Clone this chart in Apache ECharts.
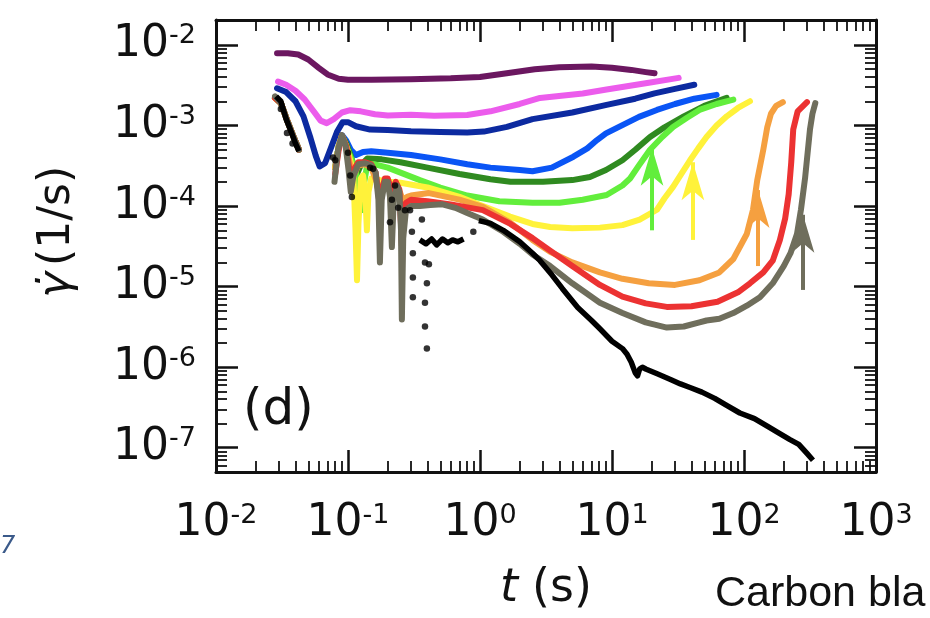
<!DOCTYPE html>
<html>
<head>
<meta charset="utf-8">
<script src="https://cdn.jsdelivr.net/npm/echarts@6/dist/echarts.min.js"></script>
<style>
  html, body { margin: 0; padding: 0; background: #ffffff; }
  #chart { width: 930px; height: 618px; }
</style>
</head>
<body>
<div id="chart"></div>
<script>
// Creep shear-rate curves, gamma-dot (1/s) versus time t (s), log-log.
// Each curve: time points and rates; null marks a break (negative rate, not shown on log scale).

const purpleT = [0.029, 0.035, 0.042, 0.05, 0.06, 0.07, 0.085, 0.1, 0.15, 0.3, 0.6, 1, 1.5, 2.6, 4, 7, 10, 14, 18, 21];
const purpleY = [7.9e-3, 7.9e-3, 7.6e-3, 6.6e-3, 5.2e-3, 4.3e-3, 3.8e-3, 3.7e-3, 3.7e-3, 3.75e-3, 3.85e-3, 4.0e-3, 4.4e-3, 5.0e-3, 5.3e-3, 5.4e-3, 5.2e-3, 4.9e-3, 4.6e-3, 4.45e-3];

const magentaT = [0.0295, 0.034, 0.04, 0.047, 0.055, 0.062, 0.069, 0.078, 0.09, 0.104, 0.125, 0.16, 0.2, 0.3, 0.45, 0.8, 1.2, 2, 2.85, 6, 9.1, 19, 32];
const magentaY = [3.5e-3, 3.2e-3, 2.7e-3, 2.1e-3, 1.5e-3, 1.15e-3, 1.07e-3, 1.2e-3, 1.45e-3, 1.55e-3, 1.5e-3, 1.38e-3, 1.33e-3, 1.36e-3, 1.32e-3, 1.35e-3, 1.5e-3, 1.85e-3, 2.2e-3, 2.5e-3, 2.8e-3, 3.4e-3, 3.9e-3];

const navyT = [0.029, 0.034, 0.04, 0.046, 0.052, 0.057, 0.061, 0.067, 0.075, 0.083, 0.091, 0.1, 0.115, 0.147, 0.2, 0.3, 0.5, 0.8, 1.07, 1.6, 2.5, 5, 9.1, 15, 21, 30, 42];
const navyY = [2.9e-3, 2.6e-3, 2.0e-3, 1.3e-3, 7e-4, 4.2e-4, 3.1e-4, 3.4e-4, 5.5e-4, 8.5e-4, 1.1e-3, 1.1e-3, 9.8e-4, 8.9e-4, 8.8e-4, 8.5e-4, 8.3e-4, 8.2e-4, 8.4e-4, 9.6e-4, 1.2e-3, 1.45e-3, 1.8e-3, 2.15e-3, 2.5e-3, 2.85e-3, 3.2e-3];

const blueT = [0.028, 0.031, 0.035, 0.039, 0.0425, 0.06, 0.08, 0.085, 0.09, 0.097, 0.105, 0.115, 0.13, 0.15, 0.2, 0.3, 0.5, 0.8, 1.2, 2, 2.5, 3.5, 5.1, 6.5, 7.7, 9, 12.1, 16, 21.9, 30, 42, 62];
const blueY = [2.2e-3, 1.9e-3, 1.1e-3, 7e-4, 5e-4, null, 3e-4, 5.5e-4, 7.6e-4, 6.5e-4, 5e-4, 4.3e-4, 4.7e-4, 4.8e-4, 4.6e-4, 4.3e-4, 3.8e-4, 3.3e-4, 3.0e-4, 2.8e-4, 2.7e-4, 3.0e-4, 4.1e-4, 5.2e-4, 6.6e-4, 8e-4, 1.02e-3, 1.28e-3, 1.56e-3, 1.85e-3, 2.15e-3, 2.4e-3];

const greenT = [0.028, 0.031, 0.035, 0.039, 0.0425, 0.06, 0.08, 0.085, 0.09, 0.097, 0.105, 0.112, 0.118, 0.125, 0.14, 0.18, 0.25, 0.4, 0.7, 1.2, 1.7, 3, 5, 6.8, 9, 12, 15, 19.4, 25, 35, 50, 74];
const greenY = [2.2e-3, 1.9e-3, 1.1e-3, 7e-4, 5e-4, null, 3e-4, 5.5e-4, 7.5e-4, 6e-4, 4.2e-4, 3.0e-4, 2.6e-4, 3.2e-4, 3.9e-4, 3.8e-4, 3.5e-4, 3.0e-4, 2.5e-4, 2.15e-4, 2.0e-4, 2.0e-4, 2.1e-4, 2.3e-4, 2.8e-4, 3.7e-4, 5e-4, 7.2e-4, 9.5e-4, 1.3e-3, 1.75e-3, 2.2e-3];

const limeT = [0.028, 0.031, 0.035, 0.039, 0.0425, 0.06, 0.08, 0.085, 0.09, 0.097, 0.105, 0.112, 0.118, 0.123, 0.128, 0.133, 0.14, 0.16, 0.2, 0.25, 0.35, 0.5, 0.8, 1.4, 2.5, 4, 6, 9.1, 12, 13.7, 16, 19.4, 24, 29, 37, 46, 62, 83];
const limeY = [2.2e-3, 1.9e-3, 1.1e-3, 7e-4, 5e-4, null, 3e-4, 5.5e-4, 7.4e-4, 5.5e-4, 4e-4, 3e-4, 2.2e-4, 1.3e-4, 8.9e-5, 2e-4, 3.3e-4, 3.3e-4, 3.0e-4, 2.6e-4, 2.1e-4, 1.7e-4, 1.35e-4, 1.15e-4, 1.1e-4, 1.1e-4, 1.2e-4, 1.37e-4, 1.8e-4, 2.2e-4, 3.2e-4, 5e-4, 7.2e-4, 9.6e-4, 1.25e-3, 1.56e-3, 1.85e-3, 2.1e-3];

const yellowT = [0.028, 0.031, 0.035, 0.039, 0.0425, 0.06, 0.08, 0.085, 0.09, 0.097, 0.105, 0.11, 0.114, 0.117, 0.12, 0.125, 0.13, 0.135, 0.139, 0.143, 0.15, 0.2, 0.25, 0.4, 0.7, 1.05, 1.69, 2.5, 3.4, 5, 8.1, 12, 16.2, 21.9, 25, 29, 34, 39, 45, 52, 62, 74, 90, 111];
const yellowY = [2.2e-3, 1.9e-3, 1.1e-3, 7e-4, 5e-4, null, 3e-4, 5.5e-4, 7.4e-4, 5.5e-4, 3.5e-4, 2.2e-4, 5e-5, 1.2e-5, 6e-5, 2.2e-4, 2.4e-4, 1.5e-4, 5e-5, 1.5e-4, 2.2e-4, 2.0e-4, 1.95e-4, 1.7e-4, 1.3e-4, 1.0e-4, 7.4e-5, 6e-5, 5.5e-5, 5.3e-5, 5.4e-5, 5.8e-5, 6.8e-5, 9e-5, 1.25e-4, 1.73e-4, 2.6e-4, 3.7e-4, 5.2e-4, 7.2e-4, 1e-3, 1.3e-3, 1.65e-3, 2.0e-3];

const orangeT = [0.028, 0.031, 0.035, 0.039, 0.0425, 0.06, 0.08, 0.085, 0.09, 0.097, 0.104, 0.11, 0.12, 0.135, 0.15, 0.165, 0.175, 0.185, 0.2, 0.22, 0.24, 0.26, 0.28, 0.3, 0.41, 0.7, 1.05, 1.7, 2.5, 3.4, 5, 8.1, 12, 19, 30, 46, 65, 83, 105, 117, 126, 140, 150, 160, 175, 197];
const orangeY = [2.2e-3, 1.9e-3, 1.1e-3, 7e-4, 5e-4, null, 3e-4, 5.5e-4, 7.5e-4, 5.5e-4, 3.2e-4, 2.4e-4, 3.2e-4, 3.3e-4, 3.0e-4, 2.0e-4, 1.2e-4, 1.9e-4, 2.0e-4, 1.6e-4, 1.7e-4, 1.2e-4, 1.3e-4, 1.35e-4, 1.45e-4, 1.2e-4, 9.8e-5, 6.2e-5, 3.8e-5, 2.7e-5, 2.0e-5, 1.5e-5, 1.25e-5, 1.1e-5, 1.05e-5, 1.2e-5, 1.5e-5, 2.2e-5, 4.5e-5, 9e-5, 2.1e-4, 5e-4, 9.5e-4, 1.4e-3, 1.75e-3, 1.95e-3];

const redT = [0.028, 0.031, 0.035, 0.039, 0.0425, 0.06, 0.08, 0.085, 0.09, 0.097, 0.102, 0.106, 0.11, 0.12, 0.135, 0.15, 0.162, 0.17, 0.175, 0.18, 0.19, 0.2, 0.215, 0.23, 0.245, 0.252, 0.256, 0.262, 0.275, 0.3, 0.4, 0.6, 1.05, 1.7, 2.5, 3.4, 5, 8.1, 12, 18, 26, 40, 63, 90, 111, 140, 165, 187, 205, 218, 228, 236, 255, 300];
const redY = [2.2e-3, 1.9e-3, 1.1e-3, 7e-4, 5e-4, null, 2.5e-4, 5e-4, 7.5e-4, 5.5e-4, 3e-4, 2e-4, 2.8e-4, 3.5e-4, 3.5e-4, 3.3e-4, 2.6e-4, 1.5e-4, 8e-5, 1.5e-4, 2.2e-4, 2.2e-4, 1.5e-4, 2e-4, 1.6e-4, 6e-5, 3.2e-5, 6e-5, 1.1e-4, 1.2e-4, 1.15e-4, 1.05e-4, 8.9e-5, 6e-5, 4e-5, 2.8e-5, 1.8e-5, 1.05e-5, 7.5e-6, 6.2e-6, 5.6e-6, 5.7e-6, 6.5e-6, 8.5e-6, 1.1e-5, 1.5e-5, 2.1e-5, 3.8e-5, 7e-5, 1.4e-4, 3.5e-4, 8.9e-4, 1.5e-3, 1.95e-3];

const grayT = [0.028, 0.031, 0.035, 0.039, 0.0425, 0.06, 0.079, 0.084, 0.09, 0.096, 0.101, 0.105, 0.11, 0.12, 0.135, 0.15, 0.162, 0.17, 0.1745, 0.18, 0.19, 0.2, 0.208, 0.215, 0.222, 0.235, 0.245, 0.252, 0.256, 0.262, 0.275, 0.3, 0.35, 0.42, 0.52, 0.65, 0.8, 1.05, 1.5, 2.0, 2.5, 3.4, 5, 8.1, 12, 18, 26, 35, 46, 52, 65, 83, 105, 132, 165, 200, 225, 252, 270, 290, 305, 316, 330, 347];
const grayY = [2.3e-3, 1.9e-3, 1.1e-3, 7e-4, 5e-4, null, 2e-4, 5e-4, 7.6e-4, 5.5e-4, 2.8e-4, 1.5e-4, 2.4e-4, 3.3e-4, 3.4e-4, 3.2e-4, 2.6e-4, 1.2e-4, 2e-5, 1.2e-4, 2.0e-4, 2.0e-4, 1.3e-4, 3.1e-5, 1.2e-4, 1.8e-4, 1.5e-4, 5e-5, 3.9e-6, 4e-5, 9e-5, 1.0e-4, 1.0e-4, 1.03e-4, 1.05e-4, 9.5e-5, 8.2e-5, 6.8e-5, 4.8e-5, 3.4e-5, 2.5e-5, 1.8e-5, 1.1e-5, 6.3e-6, 4.7e-6, 3.6e-6, 3.1e-6, 3.2e-6, 3.6e-6, 3.8e-6, 4.0e-6, 4.7e-6, 5.8e-6, 7.4e-6, 1.1e-5, 1.8e-5, 2.6e-5, 4.5e-5, 9e-5, 2.2e-4, 5e-4, 8.9e-4, 1.4e-3, 1.9e-3];

const blackT = [0.0285, 0.031, 0.034, 0.037, 0.040, 0.0425, 0.2, 0.35, 0.39, 0.43, 0.47, 0.52, 0.57, 0.62, 0.68, 0.75, 0.85, 0.98, 1.2, 1.5, 2.0, 2.5, 2.85, 3.5, 4.2, 5.5, 7, 8.1, 10, 12, 13, 14, 15, 15.6, 16.2, 17, 18, 22, 28, 33, 39, 48, 60, 75, 93, 120, 150, 180, 223, 260, 300, 333];
const blackY = [2.3e-3, 2.0e-3, 1.2e-3, 8.5e-4, 6e-4, 4.8e-4, null, 3.8e-5, 3.4e-5, 3.9e-5, 3.3e-5, 3.9e-5, 3.5e-5, 3.8e-5, 3.6e-5, 3.9e-5, null, 6.6e-5, 6.1e-5, 5.0e-5, 3.6e-5, 2.6e-5, 2.1e-5, 1.4e-5, 9.5e-6, 5.5e-6, 3.8e-6, 3.0e-6, 2.1e-6, 1.7e-6, 1.45e-6, 1.15e-6, 8.5e-7, 7.8e-7, 9.5e-7, 1.0e-6, 9.5e-7, 8.3e-7, 7e-7, 6.2e-7, 5.6e-7, 4.9e-7, 4.1e-7, 3.3e-7, 2.7e-7, 2.3e-7, 1.85e-7, 1.55e-7, 1.26e-7, 1.1e-7, 8.5e-8, 7e-8];

// individual sampled points of the black run during the ringing phase
const blackDotT = [0.031, 0.0345, 0.038, 0.077, 0.080, 0.100, 0.104, 0.107, 0.147, 0.155, 0.208, 0.215, 0.227, 0.24, 0.27, 0.295, 0.305, 0.31, 0.31, 0.31, 0.363, 0.383, 0.396, 0.41, 0.383, 0.383, 0.396, 0.89];
const blackDotY = [1.6e-3, 8.1e-4, 6e-4, 4.0e-4, 3.7e-4, 4.6e-4, 2.4e-4, 1.3e-4, 3.0e-4, 2.9e-4, 6.3e-5, 1.2e-4, 1.8e-4, 9.5e-5, 8.9e-5, 8.9e-5, 4.8e-5, 2.6e-5, 1.3e-5, 7.4e-6, 6.8e-5, 2.0e-5, 1.1e-5, 1.9e-5, 6.3e-6, 3.2e-6, 1.7e-6, 4.8e-5];

// fluidization markers: time and rate span of each upward arrow (lime, yellow, orange, gray)
const arrowT    = [20.1, 41, 128, 280];
const arrowFrom = [5e-5, 3.8e-5, 1.8e-5, 9.1e-6];
const arrowTo   = [5.3e-4, 3.5e-4, 1.58e-4, 7.8e-5];

// axis ticks
const xMajor = [0.01, 0.1, 1, 10, 100, 1000];
const yMajor = [1e-7, 1e-6, 1e-5, 1e-4, 1e-3, 1e-2];
const X_MIN = 0.01, X_MAX = 1000;
const Y_MIN = 5.0e-8, Y_MAX = 0.0204;

function minorTicks(lo, hi) {
  const out = [];
  for (let k = -9; k <= 4; k++) {
    for (let m = 2; m <= 9; m++) {
      const v = Number((m * Math.pow(10, k)).toPrecision(6));
      if (v > lo && v < hi) out.push(v);
    }
  }
  return out;
}
const xMinor = minorTicks(X_MIN, X_MAX);
const yMinor = minorTicks(Y_MIN, Y_MAX);

function pairs(t, y) {
  return t.map((v, i) => [v, y[i] === null ? '-' : y[i]]);
}

const INK = '#111111';
const FONT = 'DejaVu Sans';

const powLabel = {
  formatter: (v) => '{b|10}{s|' + Math.round(Math.log10(v)) + '}',
  rich: {
    b: { fontFamily: FONT, fontSize: 44, color: INK },
    s: { fontFamily: FONT, fontSize: 27, color: INK, verticalAlign: 'top', lineHeight: 30 }
  }
};

function mkAxis(position, major, lo, hi, withLine, withLabel, extra) {
  const isMajor = major !== null;
  const ax = {
    type: 'log', logBase: 10, min: lo, max: hi, position: position,
    axisLine: { show: withLine, onZero: false, lineStyle: { color: INK, width: 3 } },
    axisTick: {
      show: true, inside: true,
      length: isMajor ? 22 : 11,
      lineStyle: { color: INK, width: isMajor ? 2.5 : 1.8 },
      customValues: isMajor ? major : extra.minor
    },
    minorTick: { show: false },
    splitLine: { show: false },
    axisLabel: { show: false },
    silent: true
  };
  if (withLabel) {
    ax.axisLabel = Object.assign({ show: true, customValues: major, margin: extra.margin }, powLabel);
  }
  return ax;
}

function lineSeries(name, t, y, color, arrowIdx) {
  const s = {
    name: name, type: 'line', data: pairs(t, y),
    showSymbol: false, connectNulls: false, smooth: false,
    lineStyle: { color: color, width: 6, cap: 'round', join: 'round' },
    itemStyle: { color: color },
    emphasis: { disabled: true },
    animation: false, z: 2
  };
  if (arrowIdx !== undefined) {
    s.markLine = {
      silent: true, animation: false,
      symbol: ['none', 'arrow'], symbolSize: [17, 38],
      label: { show: false },
      lineStyle: { color: color, width: 4, type: 'solid' },
      emphasis: { disabled: true },
      data: [[
        { coord: [arrowT[arrowIdx], arrowFrom[arrowIdx]] },
        { coord: [arrowT[arrowIdx], arrowTo[arrowIdx]] }
      ]]
    };
  }
  return s;
}

const chart = echarts.init(document.getElementById('chart'), null, { renderer: 'canvas' });

chart.setOption({
  animation: false,
  backgroundColor: '#ffffff',
  grid: { left: 216, right: 54, top: 20, bottom: 146, containLabel: false },
  xAxis: [
    Object.assign(mkAxis('bottom', xMajor, X_MIN, X_MAX, true, true, { margin: 30 }), {
      name: '{i|t}{n|(s)}', nameLocation: 'middle', nameGap: 94,
      nameTextStyle: {
        rich: {
          i: { fontFamily: FONT, fontStyle: 'italic', fontSize: 46, color: INK, padding: [0, 14, 0, 0] },
          n: { fontFamily: FONT, fontSize: 46, color: INK }
        }
      }
    }),
    mkAxis('bottom', null, X_MIN, X_MAX, false, false, { minor: xMinor }),
    mkAxis('top', xMajor, X_MIN, X_MAX, true, false, {}),
    mkAxis('top', null, X_MIN, X_MAX, false, false, { minor: xMinor })
  ],
  yAxis: [
    mkAxis('left', yMajor, Y_MIN, Y_MAX, true, true, { margin: 20 }),
    mkAxis('left', null, Y_MIN, Y_MAX, false, false, { minor: yMinor }),
    mkAxis('right', yMajor, Y_MIN, Y_MAX, true, false, {}),
    mkAxis('right', null, Y_MIN, Y_MAX, false, false, { minor: yMinor })
  ],
  series: [
    lineSeries('purple', purpleT, purpleY, '#6b1760'),
    lineSeries('magenta', magentaT, magentaY, '#ec5cec'),
    lineSeries('navy', navyT, navyY, '#0c2aa0'),
    lineSeries('blue', blueT, blueY, '#0a55f5'),
    lineSeries('green', greenT, greenY, '#2f8a20'),
    lineSeries('lime', limeT, limeY, '#62ee3c', 0),
    lineSeries('yellow', yellowT, yellowY, '#fff23a', 1),
    lineSeries('orange', orangeT, orangeY, '#f5a040', 2),
    lineSeries('red', redT, redY, '#ec3232'),
    lineSeries('gray', grayT, grayY, '#6f6e5c', 3),
    Object.assign(lineSeries('black', blackT, blackY, '#000000'), { lineStyle: { color: '#000', width: 5.5, join: 'round' } }),
    {
      name: 'black points', type: 'scatter', data: pairs(blackDotT, blackDotY),
      symbol: 'circle', symbolSize: 6.5, itemStyle: { color: '#000' },
      emphasis: { disabled: true }, animation: false, z: 3
    }
  ],
  graphic: [
    {
      type: 'text', x: 58, y: 232, rotation: Math.PI / 2,
      style: {
        text: '{i|\u03B3\u0307}{n|(1/s)}',
        align: 'center', verticalAlign: 'middle',
        rich: {
          i: { fontFamily: FONT, fontStyle: 'italic', fontSize: 44, fill: INK, padding: [0, 6, 0, 0] },
          n: { fontFamily: FONT, fontSize: 44, fill: INK }
        }
      }
    },
    {
      type: 'text', left: 243, top: 386,
      style: { text: '(d)', fontFamily: FONT, fontSize: 50, fill: INK }
    },
    {
      type: 'text', left: 715, top: 573,
      style: { text: 'Carbon bla', fontFamily: 'Liberation Sans', fontSize: 43, fill: '#111' }
    },
    {
      type: 'text', left: 0, top: 535,
      style: { text: '7', fontFamily: 'DejaVu Sans', fontStyle: 'italic', fontSize: 24, fill: '#3b5a8a' }
    }
  ]
});
</script>
</body>
</html>
